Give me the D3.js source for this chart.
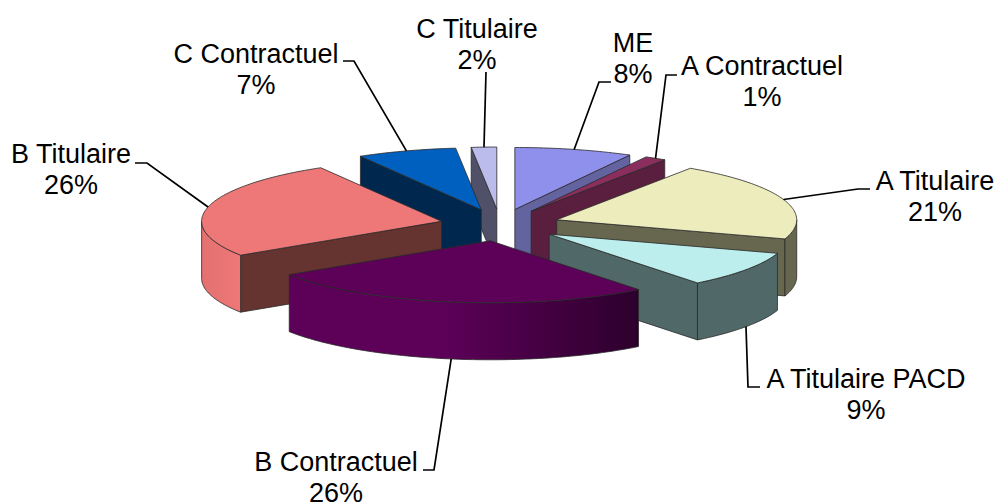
<!DOCTYPE html>
<html><head><meta charset="utf-8">
<script src="https://cdn.jsdelivr.net/npm/d3@7"></script>
<style>html,body{margin:0;padding:0;background:#fff}svg{display:block}text{font-family:"Liberation Sans",Arial,sans-serif;font-size:27px;fill:#000}</style>
</head><body><svg id="c" width="995" height="503"></svg>
<script>
const categories = ["ME","A Contractuel","A Titulaire","A Titulaire PACD","B Contractuel","B Titulaire","C Contractuel","C Titulaire"];
const values = [7.95,1.45,20.6,9.4,26.4,25.8,6.7,1.7];
const topColors = ["#8F8FEC","#8B2E5E","#ECECBC","#BCEEEE","#5C0058","#EE7878","#0060BF","#BCBCEC"];
const wallColors = ["#63639F","#5A1F3F","#67674F","#506868","#653430","#653430","#00284F","#505068"];
const outerLight = ["#8F8FEC","#8B2E5E","#67674F","#506868","#5C0058","#EE7878","#0060BF","#BCBCEC"];
const outerDark = ["#8F8FEC","#8B2E5E","#67674F","#506868","#2C002C","#E47070","#0060BF","#BCBCEC"];
// painter's order, back to front
const drawOrder = [7,0,6,1,2,5,3,4];
// label boxes and leader lines (layout, not data)
const labelCenters = [[633,42],[762,65],[935,180],[866,378],[336,461],[71,153],[256,53],[477,28]];
const leaderElbows = [[[599,82],[611,82]],[[666,75],[677,75]],[[858,189],[870,189]],[[748,387],[760,387]],[[434,470],[423,470]],[[147,163],[135,163]],[[354,61],[343,61]],[[486,72]]];

const cx=500, cy=225, rx=240, ry=62, depth=57, explodeX=60, explodeY=16;
const svg=d3.select("#c");
const arcs=d3.pie().sort(null).value(d=>d)(values);
const defs=svg.append("defs");

function pt(a,th,dz=0){return [a[0]+rx*Math.sin(th), a[1]-ry*Math.cos(th)+dz];}
function sample(t0,t1){const n=Math.max(2,Math.ceil(Math.abs(t1-t0)/0.02));return d3.range(n+1).map(i=>t0+(t1-t0)*i/n);}
const line=d3.line();

arcs.forEach((d,i)=>{d.mid=(d.startAngle+d.endAngle)/2;d.apex=[cx+explodeX*Math.sin(d.mid),cy-explodeY*Math.cos(d.mid)];d.i=i;});

drawOrder.forEach(i=>{
  const d=arcs[i],a=d.apex,t0=d.startAngle,t1=d.endAngle,g=svg.append("g");
  const A=[a[0],a[1]+depth];
  const edge="#2a2a2a";
  if(t0>Math.PI) g.append("path").attr("d",line([a,pt(a,t0),pt(a,t0,depth),A])+"Z").attr("fill",wallColors[i]).attr("stroke",edge).attr("stroke-width",0.8);
  if(t1<Math.PI) g.append("path").attr("d",line([a,pt(a,t1),pt(a,t1,depth),A])+"Z").attr("fill",wallColors[i]).attr("stroke",edge).attr("stroke-width",0.8);
  const o0=Math.max(t0,Math.PI/2),o1=Math.min(t1,Math.PI*1.5);
  if(o1>o0){
    const id="g"+i, x0=pt(a,o0)[0], x1=pt(a,o1)[0];
    const gr=defs.append("linearGradient").attr("id",id).attr("gradientUnits","userSpaceOnUse").attr("x1",Math.min(x0,x1)).attr("x2",Math.max(x0,x1)).attr("y1",0).attr("y2",0);
    gr.append("stop").attr("offset",0).attr("stop-color",i===5?outerDark[i]:outerLight[i]);
    if(i===4) gr.append("stop").attr("offset",0.45).attr("stop-color",outerLight[i]);
    gr.append("stop").attr("offset",1).attr("stop-color",i===5?outerLight[i]:outerDark[i]);
    const th=sample(o0,o1);
    const pts=th.map(t=>pt(a,t)).concat(th.slice().reverse().map(t=>pt(a,t,depth)));
    g.append("path").attr("d",line(pts)+"Z").attr("fill",`url(#${id})`).attr("stroke",edge).attr("stroke-width",0.8);
  }
  const th=sample(t0,t1);
  g.append("path").attr("d",line([a].concat(th.map(t=>pt(a,t))))+"Z").attr("fill",topColors[i]).attr("stroke",edge).attr("stroke-width",0.8).attr("stroke-linejoin","round");
});

arcs.forEach((d,i)=>{
  const front=Math.cos(d.mid)<0;
  const p=[pt(d.apex,d.mid,front?depth:0)].concat(leaderElbows[i]);
  svg.append("path").attr("d",line(p)).attr("fill","none").attr("stroke","#000").attr("stroke-width",1.7);
  const c=labelCenters[i];
  const t=svg.append("text").attr("text-anchor","middle").attr("x",c[0]).attr("y",c[1]+10);
  t.append("tspan").attr("x",c[0]).text(categories[i]);
  t.append("tspan").attr("x",c[0]).attr("dy",31).text(Math.round(d.value)+"%");
});
</script></body></html>
